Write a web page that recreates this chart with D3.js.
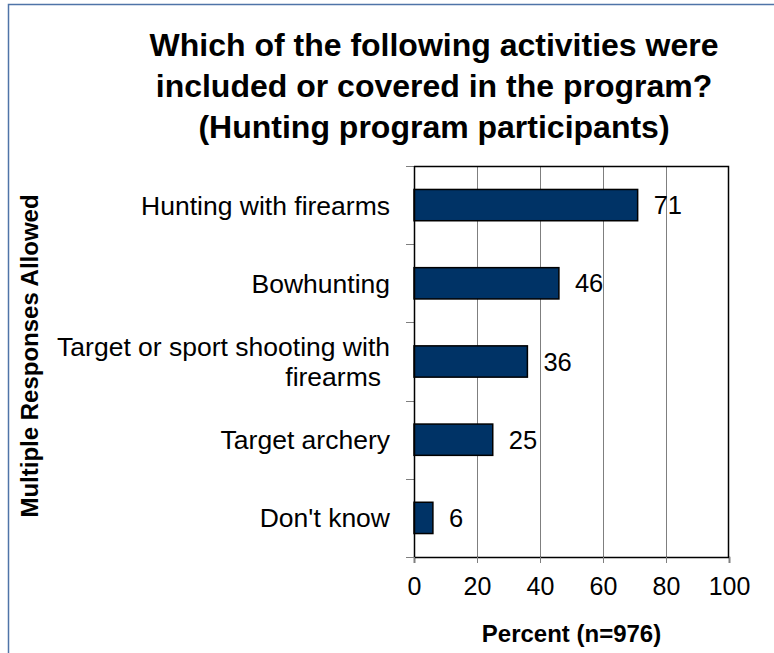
<!DOCTYPE html>
<html>
<head>
<meta charset="utf-8">
<script src="https://cdn.jsdelivr.net/npm/d3@7"></script>
<style>
  html, body { margin: 0; padding: 0; background: #fff; }
  svg { display: block; font-family: "Liberation Sans", Arial, sans-serif; }
</style>
</head>
<body>
<div id="chart"></div>
<script>
// Survey responses (percent of hunting program participants)
const categories = [
  "Hunting with firearms",
  "Bowhunting",
  "Target or sport shooting with firearms",
  "Target archery",
  "Don't know"
];
const values = [71, 46, 36, 25, 6];
const xTicks = [0, 20, 40, 60, 80, 100];
const titleLines = [
  "Which of the following activities were",
  "included or covered in the program?",
  "(Hunting program participants)"
];
const xAxisTitle = "Percent (n=976)";
const yAxisTitle = "Multiple Responses Allowed";

// Labels that wrap onto two lines
const labelLines = {
  "Target or sport shooting with firearms": ["Target or sport shooting with", "firearms"]
};

const W = 774, H = 653;
const margin = { top: 166, right: 45, bottom: 96, left: 414 };
const innerW = W - margin.left - margin.right;
const innerH = H - margin.top - margin.bottom;

const svg = d3.select("#chart").append("svg")
  .attr("width", W).attr("height", H);

svg.append("rect").attr("width", W).attr("height", H).attr("fill", "#fff");

// Outer frame (top and left edges)
svg.append("path")
  .attr("d", `M8.5,${H} L8.5,4.5 L${W},4.5`)
  .attr("fill", "none")
  .attr("stroke", "#4f74a8")
  .attr("stroke-width", 1.5);

// Title
const title = svg.append("text")
  .attr("text-anchor", "middle")
  .attr("font-weight", "bold")
  .attr("font-size", 32)
  .attr("fill", "#000");
titleLines.forEach((t, i) => {
  title.append("tspan").attr("x", 434).attr("y", 56 + i * 41).text(t);
});

const x = d3.scaleLinear().domain([0, 100]).range([0, innerW]);
const y = d3.scaleBand().domain(categories).range([0, innerH]).paddingInner(0.6).paddingOuter(0.3);

const g = svg.append("g").attr("transform", `translate(${margin.left},${margin.top})`);

// Vertical gridlines
g.selectAll("line.grid")
  .data(xTicks.filter(d => d > 0 && d < 100))
  .join("line")
  .attr("class", "grid")
  .attr("x1", d => Math.round(x(d)) + 0.5).attr("x2", d => Math.round(x(d)) + 0.5)
  .attr("y1", 0).attr("y2", innerH)
  .attr("stroke", "#7f7f7f").attr("stroke-width", 1);

// Plot area border (top and right)
g.append("path")
  .attr("d", `M0,0.5 L${innerW - 0.5},0.5 L${innerW - 0.5},${innerH}`)
  .attr("fill", "none").attr("stroke", "#000").attr("stroke-width", 1.5);

// Bars
g.selectAll("rect.bar")
  .data(values)
  .join("rect")
  .attr("class", "bar")
  .attr("x", x(0))
  .attr("y", (d, i) => y(categories[i]))
  .attr("width", d => x(d) - x(0))
  .attr("height", y.bandwidth())
  .attr("fill", "#003366")
  .attr("stroke", "#000")
  .attr("stroke-width", 1.5);

// Value labels
g.selectAll("text.val")
  .data(values)
  .join("text")
  .attr("class", "val")
  .attr("x", d => x(d) + 16)
  .attr("y", (d, i) => y(categories[i]) + y.bandwidth() / 2)
  .attr("dy", "0.36em")
  .attr("font-size", 25.5)
  .attr("fill", "#000")
  .text(d => d);

// X axis
const xAxis = d3.axisBottom(x).tickValues(xTicks).tickSize(6).tickPadding(14);
const xg = g.append("g").attr("transform", `translate(0,${innerH})`).call(xAxis);
xg.select(".domain").attr("stroke", "#000").attr("stroke-width", 1.5);
xg.selectAll(".tick line").attr("stroke", "#7f7f7f");
xg.selectAll(".tick text").attr("font-size", 25).attr("font-family", "Liberation Sans, Arial, sans-serif").attr("fill", "#000");

// Y axis: category boundaries carry the tick marks
const bandStep = innerH / categories.length;
const yTickPos = d3.range(categories.length + 1).map(i => i * bandStep);
g.selectAll("line.ytick")
  .data(yTickPos)
  .join("line")
  .attr("class", "ytick")
  .attr("x1", -8).attr("x2", 0)
  .attr("y1", d => Math.round(d) + 0.5).attr("y2", d => Math.round(d) + 0.5)
  .attr("stroke", "#7f7f7f");
g.append("line")
  .attr("x1", 0.5).attr("x2", 0.5).attr("y1", 0).attr("y2", innerH)
  .attr("stroke", "#000").attr("stroke-width", 1.5);

// Category labels
categories.forEach(c => {
  const lines = labelLines[c] || [c];
  const cy = y(c) + y.bandwidth() / 2;
  const t = g.append("text")
    .attr("text-anchor", "end")
    .attr("font-size", 26.5)
    .attr("fill", "#000");
  lines.forEach((ln, i) => {
    t.append("tspan")
      .attr("x", i > 0 ? -33 : -24)
      .attr("y", cy + (i - (lines.length - 1) / 2) * 30)
      .attr("dy", "0.36em")
      .text(ln);
  });
});

// Axis titles
svg.append("text")
  .attr("x", margin.left + innerW / 2)
  .attr("y", 642)
  .attr("text-anchor", "middle")
  .attr("font-weight", "bold")
  .attr("font-size", 24)
  .text(xAxisTitle);

svg.append("text")
  .attr("transform", `translate(38,356) rotate(-90)`)
  .attr("text-anchor", "middle")
  .attr("font-weight", "bold")
  .attr("font-size", 24)
  .text(yAxisTitle);
</script>
</body>
</html>
